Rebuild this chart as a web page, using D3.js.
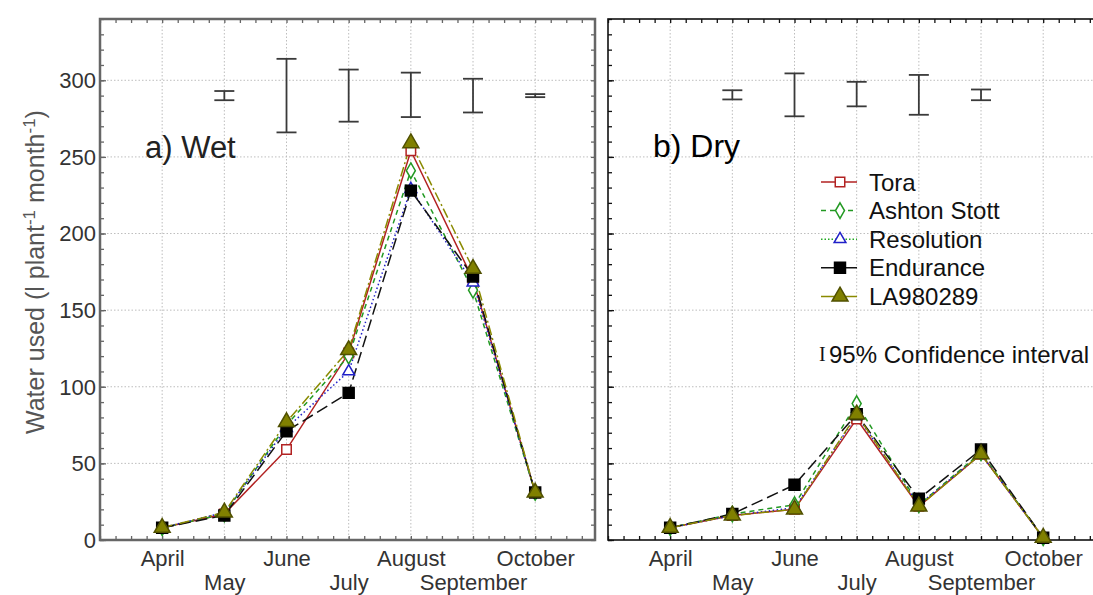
<!DOCTYPE html>
<html>
<head>
<meta charset="utf-8">
<script src="https://cdn.jsdelivr.net/npm/d3@7"></script>
<style>
  html, body { margin: 0; padding: 0; background: #fff; }
  svg { display: block; font-family: "Liberation Sans", Arial, sans-serif; }
</style>
</head>
<body>
<svg id="chart" width="1093" height="595"></svg>
<script>
// Months (x positions as month number) and their labels
const monthNums = [4, 5, 6, 7, 8, 9, 10];
const monthLabels = ["April", "May", "June", "July", "August", "September", "October"];
const yTicks = [0, 50, 100, 150, 200, 250, 300];
const seriesNames = ["Tora", "Ashton Stott", "Resolution", "Endurance", "LA980289"];

// a) Wet – monthly water use (l plant-1 month-1)
const wetTora       = [8, 17, 59, 122, 254, 170, 31];
const wetAshton     = [8, 17, 75, 120, 241, 163, 31];
const wetResolution = [8, 18, 73, 110, 229, 168, 31];
const wetEndurance  = [8, 16, 71, 96, 228, 172, 31];
const wetLA         = [8, 18, 77, 124, 259, 177, 31];

// b) Dry – monthly water use
const dryTora       = [8, 16, 20, 79, 22, 56, 1.5];
const dryAshton     = [8, 17, 23, 89, 23, 57, 1.5];
const dryResolution = [8, 16, 21, 81, 23, 56, 1.5];
const dryEndurance  = [8, 17, 36, 82, 27, 59, 1.5];
const dryLA         = [8, 16, 20, 82, 22, 56, 1.5];

// 95% confidence intervals, drawn as free-standing bars near the top
const wetCIMonths = [5, 6, 7, 8, 9, 10];
const wetCILow    = [287, 266, 273, 276, 279, 289];
const wetCIHigh   = [293, 314, 307, 305, 301, 291];
const dryCIMonths = [5, 6, 7, 8, 9];
const dryCILow    = [287.5, 276.5, 283, 277.5, 287];
const dryCIHigh   = [293.5, 304.5, 299, 303.5, 294];

const styles = [
  { color: "#b22222", dash: null,        legendColor: "#b22222", legendDash: null,     symbol: d3.symbolSquare,   size: 90,  fill: "#fff",    stroke: "#b22222" },
  { color: "#229922", dash: "5,4",       legendColor: "#229922", legendDash: "5,4",    symbol: d3.symbolDiamond,  size: 70,  fill: "#fff",    stroke: "#229922" },
  { color: "#2020c8", dash: "1.5,2.5",   legendColor: "#22aa22", legendDash: "1.5,2",  symbol: d3.symbolTriangle, size: 60,  fill: "#fff",    stroke: "#2020c8" },
  { color: "#111",    dash: "12,5",      legendColor: "#111",    legendDash: null,     symbol: d3.symbolSquare,   size: 120, fill: "#000",    stroke: "#000" },
  { color: "#8a8a00", dash: "10,3,2,3",  legendColor: "#8a8a00", legendDash: null,     symbol: d3.symbolTriangle, size: 110, fill: "#808000", stroke: "#505000" }
];

const svg = d3.select("#chart");
svg.append("rect").attr("width", 1093).attr("height", 595).attr("fill", "#fff");

const plotTop = 19, plotBottom = 540;
const y = d3.scaleLinear().domain([0, 340]).range([plotBottom, plotTop]);

function drawPanel(left, width, data, ciMonths, ciLow, ciHigh, frame) {
  const x = d3.scaleLinear().domain([3, 3 + width / 62.17]).range([left, left + width]);
  const g = svg.append("g");

  // dotted grid
  g.selectAll(".vgrid").data(monthNums).join("line")
    .attr("x1", d => x(d)).attr("x2", d => x(d)).attr("y1", plotTop).attr("y2", plotBottom)
    .attr("stroke", "#bdbdbd").attr("stroke-dasharray", "1.5,2").attr("stroke-width", 1);
  g.selectAll(".hgrid").data(yTicks.slice(1)).join("line")
    .attr("x1", left).attr("x2", left + width).attr("y1", d => y(d)).attr("y2", d => y(d))
    .attr("stroke", "#bdbdbd").attr("stroke-dasharray", "1.5,2").attr("stroke-width", 1);

  // inward tick marks (minor and major) on each framed side
  const xMinor = d3.range(3, x.domain()[1], 0.25);
  const yMinor = d3.range(0, 341, 10);
  const tickGroups = [];
  tickGroups.push(g.append("g").attr("transform", `translate(0,${plotBottom})`)
    .call(d3.axisBottom(x).tickValues(xMinor).tickSize(-4).tickFormat("")));
  tickGroups.push(g.append("g").attr("transform", `translate(0,${plotTop})`)
    .call(d3.axisTop(x).tickValues(xMinor).tickSize(-4).tickFormat("")));
  tickGroups.push(g.append("g").attr("transform", `translate(${left},0)`)
    .call(d3.axisLeft(y).tickValues(yMinor).tickSize(-4).tickFormat("")));
  tickGroups.push(g.append("g").attr("transform", `translate(${left},0)`)
    .call(d3.axisLeft(y).tickValues(yTicks).tickSize(-6).tickFormat("")));
  if (frame.right) {
    tickGroups.push(g.append("g").attr("transform", `translate(${left + width},0)`)
      .call(d3.axisRight(y).tickValues(yMinor).tickSize(-4).tickFormat("")));
  }
  tickGroups.forEach(t => {
    t.select(".domain").remove();
    t.selectAll("line").attr("stroke", frame.color).attr("stroke-width", 1.3);
  });

  // frame
  g.append("rect").attr("x", left).attr("y", plotTop).attr("width", width).attr("height", plotBottom - plotTop)
    .attr("fill", "none").attr("stroke", frame.color).attr("stroke-width", frame.width);

  // month labels in two staggered rows
  const lab = g.append("g").attr("transform", `translate(0,${plotBottom})`)
    .call(d3.axisBottom(x).tickValues(monthNums).tickSize(0).tickPadding(0)
      .tickFormat((d, i) => monthLabels[i]));
  lab.select(".domain").remove();
  lab.selectAll("text")
    .attr("font-size", 22).attr("font-family", "Liberation Sans, Arial, sans-serif")
    .attr("fill", "#333")
    .attr("dy", null)
    .attr("y", (d, i) => i % 2 === 0 ? 26 : 50);

  // confidence-interval bars
  const ci = g.append("g").attr("stroke", "#3a3a3a").attr("stroke-width", 1.8);
  ciMonths.forEach((m, i) => {
    const cx = x(m);
    ci.append("line").attr("x1", cx).attr("x2", cx).attr("y1", y(ciLow[i])).attr("y2", y(ciHigh[i]));
    ci.append("line").attr("x1", cx - 10).attr("x2", cx + 10).attr("y1", y(ciLow[i])).attr("y2", y(ciLow[i]));
    ci.append("line").attr("x1", cx - 10).attr("x2", cx + 10).attr("y1", y(ciHigh[i])).attr("y2", y(ciHigh[i]));
  });

  // series lines and markers
  const line = d3.line().x((d, i) => x(monthNums[i])).y(d => y(d));
  data.forEach((vals, s) => {
    const st = styles[s];
    g.append("path").datum(vals).attr("d", line)
      .attr("fill", "none").attr("stroke", st.color).attr("stroke-width", 1.5)
      .attr("stroke-dasharray", st.dash);
  });
  data.forEach((vals, s) => {
    const st = styles[s];
    g.selectAll(null).data(vals).join("path")
      .attr("d", d3.symbol().type(st.symbol).size(st.size))
      .attr("transform", (d, i) => `translate(${x(monthNums[i])},${y(d)})`)
      .attr("fill", st.fill).attr("stroke", st.stroke).attr("stroke-width", 1.5);
  });
  return x;
}

drawPanel(100, 495,
  [wetTora, wetAshton, wetResolution, wetEndurance, wetLA],
  wetCIMonths, wetCILow, wetCIHigh,
  { color: "#666", width: 2.5, right: true });

drawPanel(608, 495,
  [dryTora, dryAshton, dryResolution, dryEndurance, dryLA],
  dryCIMonths, dryCILow, dryCIHigh,
  { color: "#111", width: 1.6, right: false });

// y tick labels (left panel only)
svg.append("g").selectAll("text").data(yTicks).join("text")
  .attr("x", 96).attr("y", d => y(d)).attr("dy", "0.36em")
  .attr("text-anchor", "end").attr("font-size", 22).attr("fill", "#333")
  .text(d => d);

// y axis title
const yt = svg.append("text")
  .attr("transform", "translate(44,272) rotate(-90)")
  .attr("text-anchor", "middle").attr("font-size", 25).attr("fill", "#555");
yt.append("tspan").text("Water used (l plant");
yt.append("tspan").attr("dy", -9).attr("font-size", 17).text("-1");
yt.append("tspan").attr("dy", 9).text(" month");
yt.append("tspan").attr("dy", -9).attr("font-size", 17).text("-1");
yt.append("tspan").attr("dy", 9).text(")");

// panel titles
svg.append("text").attr("x", 145).attr("y", 158).attr("font-size", 31).attr("fill", "#222").text("a) Wet");
svg.append("text").attr("x", 653).attr("y", 157).attr("font-size", 32).attr("fill", "#000").text("b) Dry");

// legend
const legend = svg.append("g");
seriesNames.forEach((name, i) => {
  const st = styles[i];
  const ly = 182 + i * 28.6;
  legend.append("line").attr("x1", 821).attr("x2", 857).attr("y1", ly).attr("y2", ly)
    .attr("stroke", st.legendColor).attr("stroke-width", 1.5).attr("stroke-dasharray", st.legendDash);
  legend.append("path").attr("d", d3.symbol().type(st.symbol).size(st.size)())
    .attr("transform", `translate(840,${ly})`)
    .attr("fill", st.fill).attr("stroke", st.stroke).attr("stroke-width", 1.5);
  legend.append("text").attr("x", 869).attr("y", ly).attr("dy", "0.36em")
    .attr("font-size", 24).attr("fill", "#111").text(name);
});
legend.append("text").attr("x", 819).attr("y", 354).attr("dy", "0.36em")
  .attr("font-family", "Liberation Serif, serif").attr("font-size", 20).attr("fill", "#111").text("I");
legend.append("text").attr("x", 829).attr("y", 354).attr("dy", "0.36em")
  .attr("font-size", 24).attr("fill", "#111").text("95% Confidence interval");
</script>
</body>
</html>
